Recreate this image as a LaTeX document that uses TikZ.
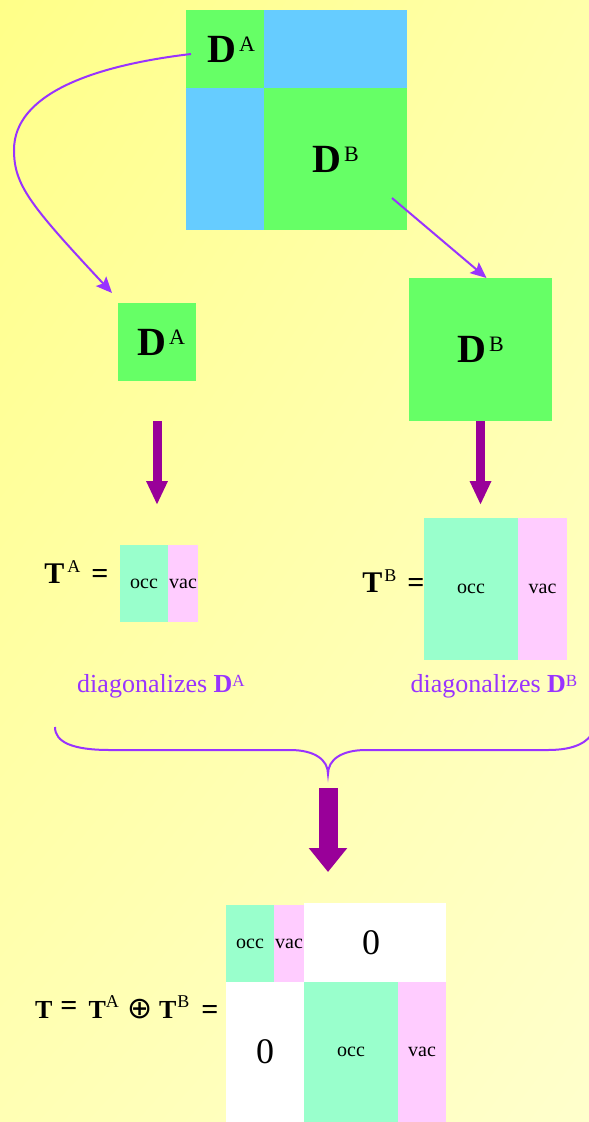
\documentclass[tikz,border=0pt]{standalone}
\usepackage{fontspec}
\setmainfont{Liberation Serif}
\newfontfamily\opfont{DejaVu Sans}
\usetikzlibrary{arrows.meta, positioning, calc, shadings}
\definecolor{blkgreen}{HTML}{66FF66}
\definecolor{blkblue}{HTML}{66CCFF}
\definecolor{occcol}{HTML}{99FFCC}
\definecolor{vaccol}{HTML}{FFCCFF}
\definecolor{fatpurple}{HTML}{990099}
\definecolor{linepurple}{HTML}{9933FF}
\definecolor{bgtl}{HTML}{FFFF88}
\definecolor{bgtr}{HTML}{FFFFAA}
\definecolor{bgbl}{HTML}{FFFFB4}
\definecolor{bgbr}{HTML}{FFFFCC}
\newcommand{\Dfont}{\fontsize{40}{44}\selectfont}
\newcommand{\cellfont}{\fontsize{20}{22}\selectfont}
\newcommand{\eqfont}{\fontsize{30}{32}\selectfont\bfseries}
\newcommand{\labfont}{\fontsize{26}{28}\selectfont}
\newcommand{\zerofont}{\fontsize{36}{38}\selectfont}
\newcommand{\Dsym}[1]{\textbf{D}\hspace{3pt}\raisebox{11pt}{\fontsize{22}{24}\selectfont #1}}
\newcommand{\Tsym}[2][0pt]{T\hspace{#1}\raisebox{11pt}{\mdseries\fontsize{18}{20}\selectfont #2}}
\newcommand{\Dlab}[1]{\textbf{D}\raisebox{5.5pt}{\fontsize{17}{19}\selectfont #1}}
\newcommand{\eqsign}{{\fontsize{30}{32}\selectfont =}}
\tikzset{
  cell/.style 2 args = {minimum width=#1pt, minimum height=#2pt, inner sep=0pt,
                        outer sep=0pt, anchor=north west},
  occ/.style       = {fill=occcol, font=\cellfont},
  vac/.style       = {fill=vaccol, font=\cellfont},
  thinarrow/.style = {-{Stealth[length=16pt, width=14pt, inset=3pt]}, line width=2pt,
                      draw=linepurple},
  fatarrow/.style  = {-{Triangle[length=24pt, width=20pt]}, line width=9pt, draw=fatpurple},
  mergearrow/.style= {-{Triangle[length=24pt, width=37pt]}, line width=19pt, draw=fatpurple},
  diaglab/.style   = {font=\labfont, text=linepurple},
}
\begin{document}
\begin{tikzpicture}[x=1pt, y=-1pt]
  \shade[upper left=bgtl, upper right=bgtr, lower left=bgbl, lower right=bgbr]
    (0,0) rectangle (589,1122);
  \useasboundingbox (0,0) rectangle (589,1122);

  % full density matrix
  \node[cell={78}{78}, fill=blkgreen, font=\Dfont] (topA) at (186,10) {\hspace{12pt}\Dsym{A}};
  \node[cell={143}{78}, fill=blkblue] (topAB) at (topA.north east) {};
  \node[cell={78}{142}, fill=blkblue] (topBA) at (topA.south west) {};
  \node[cell={143}{142}, fill=blkgreen, font=\Dfont] (topB) at (topA.south east) {\Dsym{B}};

  % the two blocks
  \node[cell={78}{78}, fill=blkgreen, font=\Dfont] (smallA) at (118,303) {\hspace{8pt}\Dsym{A}};
  \node[cell={143}{143}, fill=blkgreen, font=\Dfont] (bigB) at (409,278) {\Dsym{B}};

  % transformations
  \node[cell={48}{77}, occ] (TAocc) at (120,545) {occ};
  \node[cell={30}{77}, vac] (TAvac) at (TAocc.north east) {vac};
  \node[font=\eqfont, anchor=base east] (TAlab) at (112,583) {\Tsym[3pt]{A}\hspace{11pt}=};
  \node[cell={94}{142}, occ] (TBocc) at (424,518) {\raisebox{-6pt}{occ}};
  \node[cell={49}{142}, vac] (TBvac) at (TBocc.north east) {\raisebox{-4pt}{vac}};
  \node[font=\eqfont, anchor=base east] (TBlab) at (428,592) {\Tsym[2pt]{B}\hspace{11pt}=};

  \node[diaglab] (diagA) at (161,686) {diagonalizes \Dlab{A}};
  \node[diaglab] (diagB) at (494,686) {diagonalizes \Dlab{B}};

  % direct sum
  \node[cell={48}{77}, occ] (Tocc1) at (226,905) {occ};
  \node[cell={30}{77}, vac] (Tvac1) at (Tocc1.north east) {vac};
  \node[cell={142}{79}, fill=white, font=\zerofont] (Tzero1) at (304,903) {\hspace{-8pt}0};
  \node[cell={78}{140}, fill=white, font=\zerofont] (Tzero2) at (Tocc1.south west) {0};
  \node[cell={94}{140}, occ] (Tocc2) at (Tzero2.north east) {\raisebox{-8pt}{occ}};
  \node[cell={48}{140}, vac] (Tvac2) at (Tocc2.north east) {\raisebox{-6pt}{vac}};
  \node[font=\fontsize{26}{28}\selectfont\bfseries, anchor=base east] (Tlab) at (222,1018)
    {T\hspace{8pt}\raisebox{3pt}{\eqsign}\hspace{11pt}\Tsym{A}\hspace{9pt}{\opfont\mdseries\fontsize{30}{32}\selectfont ⊕}\hspace{6pt}\Tsym[1pt]{B}\hspace{12pt}\raisebox{-1pt}{\eqsign}};

  % arrows
  \draw[thinarrow] ([shift={(5,5)}]topA.west) .. controls (90,66) and (14,95) .. (14,150)
    .. controls (14,185) and (30,205) .. ([shift={(-6,-10)}]smallA.north west);
  \draw[thinarrow] ([shift={(-15,-32)}]topB.south east) -- ([shift={(6,0)}]bigB.north);
  \draw[fatarrow, shorten <=40pt, shorten >=40pt] (smallA.south) -- (smallA.south |- TAocc.north);
  \draw[fatarrow, shorten >=13pt] (bigB.south) -- (bigB.south |- TBocc.north);

  \coordinate (bracetip) at (328,774);
  \draw[line width=2pt, linepurple] (55,727) .. controls (55,742) and (72,750) .. (110,750)
    -- (290,750) .. controls (315,750) and (328,760) .. (bracetip)
    .. controls (328,760) and (341,750) .. (366,750) -- (548,750)
    .. controls (575,750) and (589,742) .. (594,730);
  \draw[mergearrow, shorten <=14pt, shorten >=33pt] (bracetip) -- (bracetip |- Tocc1.north);
\end{tikzpicture}
\end{document}
